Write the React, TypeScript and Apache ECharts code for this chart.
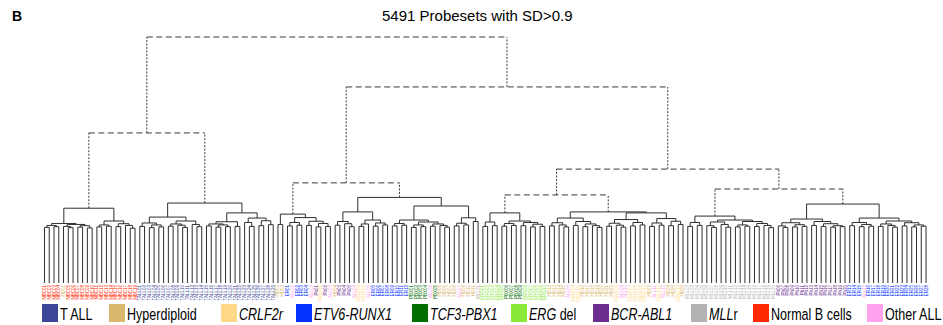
import React, { useEffect, useRef } from "react";
import * as echarts from "echarts";

const chartTitle = "5491 Probesets with SD>0.9";
const panelLetter = "B";

// Legend / category information
const categoryCodes = ["T", "H", "C", "E", "P", "G", "B", "M", "N", "O"];
const categoryLegendText = [
  "T ALL",
  "Hyperdiploid",
  "{i|CRLF2r}",
  "{i|ETV6-RUNX1}",
  "{i|TCF3-PBX1}",
  "{i|ERG} del",
  "{i|BCR-ABL1}",
  "{i|MLL}r",
  "Normal B cells",
  "Other ALL",
];
const categoryColors = [
  "#3c4699",
  "#d8b86c",
  "#ffd985",
  "#0433ff",
  "#006f00",
  "#8ae83a",
  "#6a2e90",
  "#b3b3b3",
  "#ff2a00",
  "#ffa3ef",
];
const categoryIdPrefix = ["TALL", "HD", "CRLF", "ER", "PBX", "ERG", "Ph", "MLL", "NBC", "ALL"];

// Dendrogram: node = [mergeHeight, left, right]; leaf = category code
const clusterNormalB = [30.4,
  [24.2,
    [23.4, [22.6, "N", "N"], [22.9, "N", "N"]],
    [23.8, [23.0, "H", [22.5, "N", "N"]], [23.3, [22.7, "N", "N"], [22.4, "N", "N"]]]],
  [25.2,
    [23.6, [22.8, "N", "N"], [23.1, "N", "N"]],
    [24.1, [22.9, "N", "N"], [23.4, "N", [22.3, "N", "N"]]]]];

const clusterTALL = [32.5,
  [26.8,
    [24.4, [23.0, "T", "T"], [23.6, [22.5, "T", "T"], [22.8, "T", "T"]]],
    [25.2, [24.0, [23.1, "T", "T"], [23.5, "T", [22.6, "T", "T"]]], [23.8, "T", [22.9, "T", "T"]]]],
  [28.5,
    [24.9, [24.0, [23.2, "T", "T"], [23.6, [22.7, "T", "T"], [22.9, "T", "T"]]], [23.0, "T", "T"]],
    [26.4, [24.6, "T", [23.0, "T", "T"]], [25.3, [23.3, "T", "T"], [23.7, "T", "T"]]]]];

const clusterMixedA = [28.0,
  [23.8, "H", "H"],
  [26.6,
    [24.6, [23.2, "E", "O"], [23.5, "E", "E"]],
    [25.1, [23.4, "E", "O"], [24.2, [22.8, "B", "C"], [23.0, "B", "O"]]]]];

const clusterMixedB = [34.8,
  [28.9,
    [25.0, [23.5, "H", "B"], [24.1, "B", [22.9, "B", "O"]]],
    [25.6, [24.0, [23.0, "C", "C"], "O"], [24.4, [23.1, "E", "E"], [23.6, "E", "E"]]]],
  [31.3,
    [25.6,
      [24.2, [23.2, "E", "E"], [23.5, "E", "E"]],
      [24.8, [23.6, [22.6, "P", "P"], [22.9, "P", "P"]], [24.0, [23.1, "O", "P"], [23.4, "H", [22.7, "H", "H"]]]]],
    [26.5, [24.3, [23.2, "H", "O"], [23.6, "H", "H"]], [25.0, "H", "M"]]]];

const clusterERG = [28.5,
  [24.8, [23.0, "G", "G"], [23.3, "G", "G"]],
  [25.2,
    [24.2, [23.1, "G", "P"], [23.4, "P", "P"]],
    [24.6, [23.3, "P", "G"], [23.9, [22.8, "G", "G"], [23.0, "G", "G"]]]]];

const clusterHyperdiploid = [28.9,
  [26.4,
    [24.5, [23.2, "H", "H"], [23.6, "H", [22.8, "H", "O"]]],
    [25.0, [23.4, "C", "C"], [24.0, [22.9, "H", "H"], [23.3, "H", [22.6, "H", "H"]]]]],
  [28.5,
    [25.8, [24.3, [23.1, "H", "H"], [23.5, "C", [22.7, "O", "O"]]], [24.6, [23.2, "C", "C"], [23.6, "C", "C"]]],
    [26.2, [24.4, [23.0, "H", "O"], [23.5, "C", "O"]], [25.1, [23.3, "H", "H"], [23.8, "C", "H"]]]]];

const clusterMLL = [27.2,
  [24.6, [23.0, "M", "M"], [23.4, "M", "M"]],
  [25.6,
    [24.8, [23.3, "M", [22.6, "M", "M"]], [23.8, "M", [22.7, "M", "M"]]],
    [25.0, [23.6, [22.8, "M", "M"], [23.1, "M", "M"]], [24.2, [23.0, "M", "M"], [23.4, "M", [22.5, "M", "M"]]]]]];

const clusterPhEtv6 = [32.1,
  [26.0,
    [24.5, [23.2, "B", [22.6, "B", "B"]], [23.7, [22.8, "B", "B"], [23.0, "B", "B"]]],
    [25.0, [23.4, "B", "B"], [24.1, [23.0, "B", "B"], [23.3, [22.7, "B", "B"], [22.9, "B", "B"]]]]],
  [26.4,
    [24.6, [23.3, "E", "E"], [23.8, [22.9, "E", "O"], [23.1, "E", "E"]]],
    [25.2, [24.0, [23.0, "E", "E"], [23.4, "E", [22.7, "E", "E"]]], [24.5, [23.2, "E", "E"], [23.6, [22.8, "E", "E"], [23.1, "E", "E"]]]]]];

const upperTree = [100,
  [61.0, clusterNormalB, clusterTALL],
  [79.7,
    [40.7, clusterMixedA, clusterMixedB],
    [46.3,
      [35.8, clusterERG, clusterHyperdiploid],
      [38.2, clusterMLL, clusterPhEtv6]]]];

const cutHeight = 35.4;
const heightMax = 100;

// Layout constants
const legendBoxX = [42, 109, 221, 296, 412, 511, 593, 691, 753, 867];
const FONT = "'Liberation Sans', Arial, Helvetica, sans-serif";

type Seg = [number, number, number, number, number];

function buildDendrogram() {
  const segs: Seg[] = [];
  const leaves: string[] = [];
  const walk = (node: any): { x: number; h: number } => {
    if (typeof node === "string") {
      const x = leaves.length;
      leaves.push(node);
      return { x, h: 0 };
    }
    const [h, a, b] = node;
    const ca = walk(a);
    const cb = walk(b);
    const dashed = h > cutHeight;
    segs.push([ca.x, ca.h, ca.x, h, dashed ? 2 : 0]);
    segs.push([cb.x, cb.h, cb.x, h, dashed ? 2 : 0]);
    segs.push([ca.x, h, cb.x, h, dashed ? 1 : 0]);
    return { x: (ca.x + cb.x) / 2, h };
  };
  walk(upperTree);
  return { segs, leaves };
}

export default function App() {
  const ref = useRef<HTMLDivElement>(null);

  useEffect(() => {
    if (!ref.current) return;
    const chart = echarts.init(ref.current, undefined, { renderer: "svg" });
    const { segs, leaves } = buildDendrogram();
    const counters: Record<string, number> = {};
    const leafNames = leaves.map((code) => {
      const k = categoryCodes.indexOf(code);
      counters[code] = (counters[code] || 0) + 1;
      return categoryIdPrefix[k] + String(counters[code]).padStart(2, "0");
    });
    const leafColor = (i: number) => categoryColors[categoryCodes.indexOf(leaves[i])];

    const graphics: any[] = [
      {
        type: "text",
        x: 12,
        y: 9,
        style: { text: panelLetter, fontSize: 14, fontWeight: "bold", fontFamily: FONT, fill: "#000" },
      },
      {
        type: "text",
        x: 382,
        y: 8,
        style: { text: chartTitle, fontSize: 15, fontFamily: FONT, fill: "#000" },
      },
    ];
    categoryCodes.forEach((_, i) => {
      graphics.push({
        type: "rect",
        shape: { x: legendBoxX[i], y: 304, width: 16, height: 18 },
        style: { fill: categoryColors[i] },
      });
      graphics.push({
        type: "text",
        x: legendBoxX[i] + 18,
        y: 314,
        scaleX: 0.76,
        style: {
          text: categoryLegendText[i],
          fontSize: 16.5,
          fontFamily: FONT,
          fill: "#000",
          verticalAlign: "middle",
          rich: { i: { fontSize: 16.5, fontFamily: FONT, fontStyle: "italic", fill: "#000" } },
        },
      });
    });

    chart.setOption({
      animation: false,
      grid: { left: 42.1, right: 14.6, top: 37, bottom: 42 },
      xAxis: [
        {
          type: "category",
          data: leafNames,
          axisLine: { show: false },
          axisTick: { show: false },
          splitLine: { show: false },
          axisLabel: {
            interval: 0,
            rotate: 90,
            fontSize: 4.5,
            margin: 2,
            fontFamily: FONT,
            color: (_v: any, i: number) => leafColor(i),
          },
        },
        { type: "value", min: -0.5, max: leaves.length - 0.5, show: false },
      ],
      yAxis: { type: "value", min: 0, max: heightMax, show: false },
      graphic: graphics,
      series: [
        {
          type: "custom",
          xAxisIndex: 1,
          yAxisIndex: 0,
          silent: true,
          clip: false,
          encode: { x: [0, 2], y: [1, 3] },
          data: segs,
          renderItem: (_p: any, api: any) => {
            const p1 = api.coord([api.value(0), api.value(1)]);
            const p2 = api.coord([api.value(2), api.value(3)]);
            const kind = api.value(4);
            return {
              type: "line",
              shape: { x1: p1[0], y1: p1[1], x2: p2[0], y2: p2[1] },
              style: {
                stroke: kind ? "#3a3a3a" : "#2e2e2e",
                lineWidth: 1,
                lineDash: kind === 1 ? [6, 3.5] : kind === 2 ? [2, 1.5] : undefined,
                fill: null,
              },
            };
          },
        },
      ],
    });
    return () => chart.dispose();
  }, []);

  return (
    <div
      ref={ref}
      style={{ position: "absolute", left: 0, top: 0, width: 943, height: 325, background: "#fff" }}
    />
  );
}
